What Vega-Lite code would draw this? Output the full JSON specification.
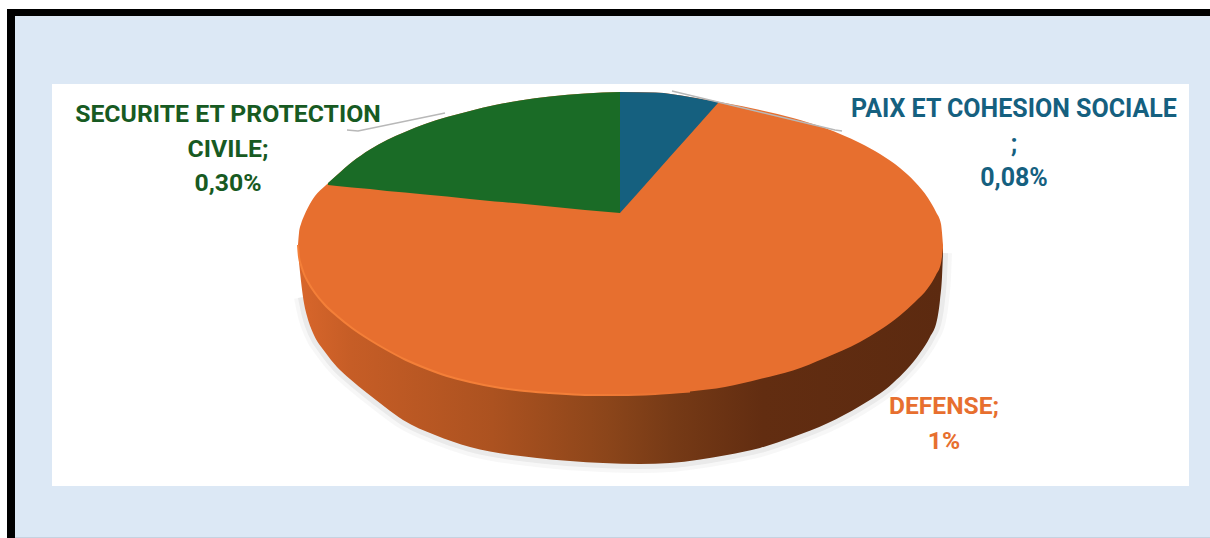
{
  "$schema": "https://vega.github.io/schema/vega-lite/v6.json",
  "width": 1210,
  "height": 538,
  "padding": 0,
  "autosize": {"type": "fit", "contains": "padding"},
  "background": "#ffffff",
  "config": {"view": {"stroke": null}},
  "resolve": {"scale": {"color": "independent", "size": "independent"}},
  "datasets": {
    "panels": [
      {"part": "border", "x": 7, "x2": 1210, "y": 9, "y2": 538},
      {"part": "sheet", "x": 15, "x2": 1210, "y": 16, "y2": 538},
      {"part": "rule", "x": 15, "x2": 1210, "y": 537, "y2": 538},
      {"part": "plot", "x": 52, "x2": 1189, "y": 84, "y2": 486}
    ],
    "slices": [
      {"part": "PAIX ET COHESION SOCIALE", "value": 0.08, "text": "PAIX ET COHESION SOCIALE|;|0,08%", "lx": 1014, "ly": 109},
      {"part": "SECURITE ET PROTECTION CIVILE", "value": 0.30, "text": "SECURITE ET PROTECTION|CIVILE;|0,30%", "lx": 228, "ly": 115},
      {"part": "DEFENSE", "value": 1, "text": "DEFENSE;|1%", "lx": 944, "ly": 407}
    ],
    "rim": [
      {"x": 299, "bottom": 262, "centre": 245}, {"x": 300, "bottom": 272, "centre": 245},
      {"x": 303, "bottom": 297, "centre": 245}, {"x": 307, "bottom": 316, "centre": 245},
      {"x": 313, "bottom": 333, "centre": 245}, {"x": 325, "bottom": 352, "centre": 245},
      {"x": 337, "bottom": 367, "centre": 245}, {"x": 350, "bottom": 379, "centre": 245},
      {"x": 367, "bottom": 393, "centre": 245}, {"x": 385, "bottom": 407, "centre": 245},
      {"x": 403, "bottom": 420, "centre": 245}, {"x": 435, "bottom": 435, "centre": 245},
      {"x": 470, "bottom": 447, "centre": 245}, {"x": 537, "bottom": 458, "centre": 245},
      {"x": 603, "bottom": 463, "centre": 245}, {"x": 640, "bottom": 464, "centre": 245},
      {"x": 670, "bottom": 463, "centre": 245}, {"x": 727, "bottom": 455, "centre": 245},
      {"x": 760, "bottom": 448, "centre": 245}, {"x": 793, "bottom": 437, "centre": 245},
      {"x": 828, "bottom": 423, "centre": 245}, {"x": 860, "bottom": 406, "centre": 245},
      {"x": 893, "bottom": 383, "centre": 245}, {"x": 920, "bottom": 353, "centre": 245},
      {"x": 930, "bottom": 337, "centre": 245}, {"x": 937, "bottom": 320, "centre": 245},
      {"x": 940, "bottom": 300, "centre": 245}, {"x": 942, "bottom": 277, "centre": 245},
      {"x": 943, "bottom": 253, "centre": 245}
    ],
    "face": [
      {"x": 298, "upper": 245, "lower": 245}, {"x": 299, "upper": 233, "lower": 257},
      {"x": 301, "upper": 224, "lower": 265}, {"x": 304, "upper": 216, "lower": 274},
      {"x": 308, "upper": 207.5, "lower": 282}, {"x": 315, "upper": 196, "lower": 293},
      {"x": 325, "upper": 186, "lower": 305}, {"x": 337, "upper": 175, "lower": 316},
      {"x": 352, "upper": 162, "lower": 328}, {"x": 370, "upper": 149.5, "lower": 340},
      {"x": 387, "upper": 140, "lower": 350}, {"x": 405, "upper": 132, "lower": 359.5},
      {"x": 425, "upper": 124, "lower": 368}, {"x": 447, "upper": 117, "lower": 376},
      {"x": 470, "upper": 111, "lower": 382}, {"x": 495, "upper": 105, "lower": 387},
      {"x": 520, "upper": 100.5, "lower": 390.5}, {"x": 550, "upper": 96.5, "lower": 393},
      {"x": 585, "upper": 93.5, "lower": 395}, {"x": 620, "upper": 92, "lower": 395},
      {"x": 655, "upper": 92.5, "lower": 394}, {"x": 690, "upper": 97, "lower": 391.5},
      {"x": 725, "upper": 103, "lower": 387}, {"x": 760, "upper": 110, "lower": 379},
      {"x": 793, "upper": 118, "lower": 370.5}, {"x": 825, "upper": 128, "lower": 358},
      {"x": 860, "upper": 143, "lower": 342}, {"x": 880, "upper": 154, "lower": 330},
      {"x": 900, "upper": 168, "lower": 315.5}, {"x": 915, "upper": 182, "lower": 302},
      {"x": 928, "upper": 198, "lower": 288}, {"x": 936, "upper": 212, "lower": 275},
      {"x": 941, "upper": 224, "lower": 263}, {"x": 943, "upper": 245, "lower": 248}
    ],
    "wedges": [
      {"part": "SECURITE ET PROTECTION CIVILE", "x": 328, "upper": 183, "lower": 185},
      {"part": "SECURITE ET PROTECTION CIVILE", "x": 337, "upper": 175, "lower": 186},
      {"part": "SECURITE ET PROTECTION CIVILE", "x": 352, "upper": 162, "lower": 187.5},
      {"part": "SECURITE ET PROTECTION CIVILE", "x": 370, "upper": 149.5, "lower": 189},
      {"part": "SECURITE ET PROTECTION CIVILE", "x": 387, "upper": 140, "lower": 191},
      {"part": "SECURITE ET PROTECTION CIVILE", "x": 405, "upper": 132, "lower": 192.5},
      {"part": "SECURITE ET PROTECTION CIVILE", "x": 425, "upper": 124, "lower": 194.5},
      {"part": "SECURITE ET PROTECTION CIVILE", "x": 447, "upper": 117, "lower": 196.5},
      {"part": "SECURITE ET PROTECTION CIVILE", "x": 470, "upper": 111, "lower": 199},
      {"part": "SECURITE ET PROTECTION CIVILE", "x": 495, "upper": 105, "lower": 201.5},
      {"part": "SECURITE ET PROTECTION CIVILE", "x": 520, "upper": 100.5, "lower": 203.5},
      {"part": "SECURITE ET PROTECTION CIVILE", "x": 550, "upper": 96.5, "lower": 206.5},
      {"part": "SECURITE ET PROTECTION CIVILE", "x": 585, "upper": 93.5, "lower": 210},
      {"part": "SECURITE ET PROTECTION CIVILE", "x": 620, "upper": 92, "lower": 213},
      {"part": "PAIX ET COHESION SOCIALE", "x": 620, "upper": 92, "lower": 213},
      {"part": "PAIX ET COHESION SOCIALE", "x": 655, "upper": 92.5, "lower": 173.7},
      {"part": "PAIX ET COHESION SOCIALE", "x": 690, "upper": 97, "lower": 134.5},
      {"part": "PAIX ET COHESION SOCIALE", "x": 718, "upper": 102, "lower": 103}
    ],
    "leaders": [
      {"part": "SECURITE ET PROTECTION CIVILE", "x": 347, "y": 130},
      {"part": "SECURITE ET PROTECTION CIVILE", "x": 358, "y": 131},
      {"part": "SECURITE ET PROTECTION CIVILE", "x": 445, "y": 113},
      {"part": "PAIX ET COHESION SOCIALE", "x": 672, "y": 91},
      {"part": "PAIX ET COHESION SOCIALE", "x": 835, "y": 130},
      {"part": "PAIX ET COHESION SOCIALE", "x": 842, "y": 131}
    ]
  },
  "layer": [
    {
      "data": {"name": "panels"},
      "mark": {"type": "rect"},
      "encoding": {
        "x": {"field": "x", "type": "quantitative", "scale": {"domain": [0, 1210], "nice": false, "zero": false}, "axis": null},
        "x2": {"field": "x2"},
        "y": {"field": "y", "type": "quantitative", "scale": {"domain": [538, 0], "nice": false, "zero": false}, "axis": null},
        "y2": {"field": "y2"},
        "color": {
          "field": "part",
          "type": "nominal",
          "legend": null,
          "scale": {
            "domain": ["border", "sheet", "rule", "plot"],
            "range": ["#000000", "#DCE8F5", "#C6D2E0", "#FFFFFF"]
          }
        }
      }
    },
    {
      "data": {"name": "rim"},
      "transform": [{"filter": "datum.x >= 303"}],
      "mark": {"type": "line", "stroke": "#8a8a8a", "strokeWidth": 18, "opacity": 0.07, "interpolate": "monotone"},
      "encoding": {"x": {"field": "x", "type": "quantitative"}, "y": {"field": "bottom", "type": "quantitative"}}
    },
    {
      "data": {"name": "rim"},
      "transform": [{"filter": "datum.x >= 303"}],
      "mark": {"type": "line", "stroke": "#8a8a8a", "strokeWidth": 10, "opacity": 0.12, "interpolate": "monotone"},
      "encoding": {"x": {"field": "x", "type": "quantitative"}, "y": {"field": "bottom", "type": "quantitative"}}
    },
    {
      "data": {"name": "rim"},
      "mark": {
        "type": "area",
        "interpolate": "monotone",
        "fill": {
          "gradient": "linear",
          "x1": 0, "y1": 0, "x2": 1, "y2": 0,
          "stops": [
            {"offset": 0, "color": "#D8662B"},
            {"offset": 0.08, "color": "#C65D26"},
            {"offset": 0.3, "color": "#AC5220"},
            {"offset": 0.48, "color": "#8B451A"},
            {"offset": 0.58, "color": "#763A16"},
            {"offset": 0.72, "color": "#622D11"},
            {"offset": 1, "color": "#5C2A10"}
          ]
        }
      },
      "encoding": {
        "x": {"field": "x", "type": "quantitative"},
        "y": {"field": "centre", "type": "quantitative"},
        "y2": {"field": "bottom"}
      }
    },
    {
      "data": {"name": "face"},
      "mark": {"type": "area", "fill": "#E76F2F", "interpolate": "monotone"},
      "encoding": {
        "x": {"field": "x", "type": "quantitative"},
        "y": {"field": "upper", "type": "quantitative"},
        "y2": {"field": "lower"}
      }
    },
    {
      "data": {"name": "face"},
      "transform": [{"filter": "datum.x <= 690"}],
      "mark": {
        "type": "line",
        "interpolate": "monotone",
        "strokeWidth": 2,
        "stroke": {
          "gradient": "linear",
          "x1": 0, "y1": 0, "x2": 1, "y2": 0,
          "stops": [
            {"offset": 0, "color": "#F47F38"},
            {"offset": 0.7, "color": "#F47F38"},
            {"offset": 1, "color": "#E76F2F"}
          ]
        }
      },
      "encoding": {"x": {"field": "x", "type": "quantitative"}, "y": {"field": "lower", "type": "quantitative"}}
    },
    {
      "data": {"name": "wedges"},
      "mark": {"type": "area", "interpolate": "monotone"},
      "encoding": {
        "x": {"field": "x", "type": "quantitative"},
        "y": {"field": "upper", "type": "quantitative"},
        "y2": {"field": "lower"},
        "color": {
          "field": "part",
          "type": "nominal",
          "legend": null,
          "scale": {
            "domain": ["PAIX ET COHESION SOCIALE", "SECURITE ET PROTECTION CIVILE"],
            "range": ["#15607F", "#1A6B26"]
          }
        }
      }
    },
    {
      "data": {"name": "leaders"},
      "mark": {"type": "line", "stroke": "#B8B8B8", "strokeWidth": 1.5},
      "encoding": {
        "x": {"field": "x", "type": "quantitative"},
        "y": {"field": "y", "type": "quantitative"},
        "detail": {"field": "part"}
      }
    },
    {
      "data": {"name": "slices"},
      "mark": {
        "type": "text",
        "font": "Roboto",
        "fontWeight": 700,
        "lineHeight": 34.5,
        "lineBreak": "|",
        "align": "center",
        "baseline": "middle"
      },
      "encoding": {
        "x": {"field": "lx", "type": "quantitative"},
        "y": {"field": "ly", "type": "quantitative"},
        "text": {"field": "text"},
        "size": {
          "field": "part",
          "type": "nominal",
          "legend": null,
          "scale": {
            "domain": ["PAIX ET COHESION SOCIALE", "SECURITE ET PROTECTION CIVILE", "DEFENSE"],
            "range": [25, 24.6, 25.5]
          }
        },
        "color": {
          "field": "part",
          "type": "nominal",
          "legend": null,
          "scale": {
            "domain": ["PAIX ET COHESION SOCIALE", "SECURITE ET PROTECTION CIVILE", "DEFENSE"],
            "range": ["#15607F", "#175A22", "#E76F2F"]
          }
        }
      }
    }
  ]
}
